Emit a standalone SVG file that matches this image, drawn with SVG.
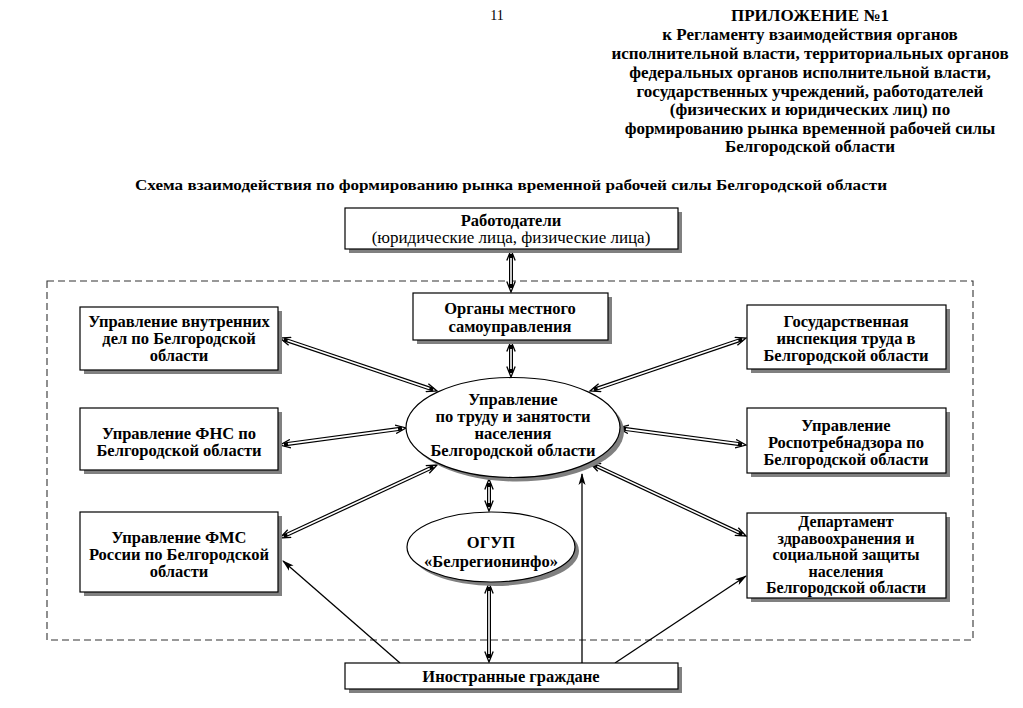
<svg xmlns="http://www.w3.org/2000/svg" width="1023" height="708" viewBox="0 0 1023 708">
<style>
text{font-family:"Liberation Serif","Times New Roman",serif;fill:#000}
.b{font-weight:bold;font-size:16.5px;text-anchor:middle}
.s{font-size:16px}
.h{font-weight:bold;font-size:17px;text-anchor:middle}
.n{font-size:17px;text-anchor:middle}
.box{fill:#fff;stroke:#000;stroke-width:1.2}
.sh{fill:#808080}
.dbo{stroke:#000;stroke-width:4;fill:none;marker-start:url(#ch);marker-end:url(#ch)}
.dbi{stroke:#fff;stroke-width:1.6;fill:none}
.sg{stroke:#000;stroke-width:1.3;fill:none;marker-end:url(#ar)}
</style>
<defs>
<marker id="ch" viewBox="0 0 12 10" refX="7" refY="5" markerWidth="12" markerHeight="10" markerUnits="userSpaceOnUse" orient="auto-start-reverse">
<path d="M0.5,0.8 L11,5 L0.5,9.2" fill="none" stroke="#000" stroke-width="1.3"/>
</marker>
<marker id="ar" viewBox="0 0 12 8" refX="11" refY="4" markerWidth="12" markerHeight="8" markerUnits="userSpaceOnUse" orient="auto">
<path d="M0,0.5 L12,4 L0,7.5 L3,4 Z" fill="#000"/>
</marker>
</defs>
<rect width="1023" height="708" fill="#fff"/>
<text x="497" y="20" style="font-size:14px;text-anchor:middle">11</text>
<g id="header">
<text class="h" x="810" y="21">ПРИЛОЖЕНИЕ №1</text>
<text class="h" x="810" y="40">к  Регламенту взаимодействия органов</text>
<text class="h" x="810" y="59">исполнительной власти, территориальных органов</text>
<text class="h" x="810" y="78">федеральных органов исполнительной власти,</text>
<text class="h" x="810" y="97">государственных учреждений, работодателей</text>
<text class="h" x="810" y="115">(физических и юридических лиц) по</text>
<text class="h" x="810" y="134">формированию рынка временной рабочей силы</text>
<text class="h" x="810" y="152">Белгородской области</text>
</g>
<text x="135" y="190" style="font-weight:bold;font-size:15px" textLength="752" lengthAdjust="spacingAndGlyphs">Схема взаимодействия по формированию рынка временной рабочей силы  Белгородской области</text>
<rect x="47" y="281" width="926" height="359" fill="none" stroke="#333" stroke-width="1.1" stroke-dasharray="7,4"/>
<g id="connectors">
<path class="dbo" d="M511,254 L511,288"/><path class="dbi" d="M511,258 L511,284"/>
<path class="dbo" d="M511,345 L511,373"/><path class="dbi" d="M511,349 L511,369"/>
<path class="dbo" d="M489,483 L489,507"/><path class="dbi" d="M489,487 L489,503"/>
<path class="dbo" d="M489,587 L489,658"/><path class="dbi" d="M489,591 L489,654"/>
<path class="dbo" d="M283.8,339.3 L433.2,389.7"/><path class="dbi" d="M287.6,340.6 L429.4,388.4"/>
<path class="dbo" d="M284,444.5 L402,428.5"/><path class="dbi" d="M287.9,443.9 L398.1,429.1"/>
<path class="dbo" d="M283.6,536.3 L433.4,466.7"/><path class="dbi" d="M287.3,534.6 L429.7,468.4"/>
<path class="dbo" d="M593.8,389.7 L742.2,339.3"/><path class="dbi" d="M597.6,388.4 L738.4,340.6"/>
<path class="dbo" d="M622,428.5 L742,444.5"/><path class="dbi" d="M625.9,429.1 L738.1,443.9"/>
<path class="dbo" d="M593.6,464.7 L742.4,534.3"/><path class="dbi" d="M597.3,466.4 L738.7,532.6"/>
<path class="sg" d="M582,663 L582,474"/>
<path class="sg" d="M615,663 L746,576"/>
<path class="sg" d="M400,663 L283,561"/>
</g>
<g id="rabotodateli">
<rect class="sh" x="349" y="212" width="333" height="41"/>
<rect class="box" x="345" y="208" width="333" height="41"/>
<text class="b" x="511" y="226">Работодатели</text>
<text class="n" x="511" y="243">(юридические лица, физические лица)</text>
</g>
<g id="organy">
<rect class="sh" x="417" y="297" width="195" height="47"/>
<rect class="box" x="413" y="293" width="195" height="47"/>
<text class="b" x="510" y="314">Органы местного</text>
<text class="b" x="510" y="332">самоуправления</text>
</g>
<g id="uvd">
<rect class="sh" x="84" y="311" width="198" height="63"/>
<rect class="box" x="80" y="307" width="198" height="63"/>
<text class="b" x="179" y="327">Управление внутренних</text>
<text class="b" x="179" y="344">дел  по Белгородской</text>
<text class="b" x="179" y="361">области</text>
</g>
<g id="fns">
<rect class="sh" x="84" y="412" width="198" height="62"/>
<rect class="box" x="80" y="408" width="198" height="62"/>
<text class="b" x="179" y="439">Управление ФНС по</text>
<text class="b" x="179" y="456">Белгородской области</text>
</g>
<g id="fms">
<rect class="sh" x="84" y="516" width="198" height="80"/>
<rect class="box" x="80" y="512" width="198" height="80"/>
<text class="b" x="179" y="543">Управление ФМС</text>
<text class="b" x="179" y="560">России по Белгородской</text>
<text class="b" x="179" y="577">области</text>
</g>
<g id="git">
<rect class="sh" x="751" y="309" width="199" height="64"/>
<rect class="box" x="747" y="305" width="199" height="64"/>
<text class="b" x="846" y="327">Государственная</text>
<text class="b" x="846" y="344">инспекция труда в</text>
<text class="b" x="846" y="361">Белгородской области</text>
</g>
<g id="rpn">
<rect class="sh" x="751" y="412" width="199" height="65"/>
<rect class="box" x="747" y="408" width="199" height="65"/>
<text class="b" x="846" y="431">Управление</text>
<text class="b" x="846" y="448">Роспотребнадзора по</text>
<text class="b" x="846" y="465">Белгородской области</text>
</g>
<g id="dep">
<rect class="sh" x="751" y="517" width="199" height="85"/>
<rect class="box" x="747" y="513" width="199" height="85"/>
<text class="b s" x="846" y="527">Департамент</text>
<text class="b s" x="846" y="543.5">здравоохранения и</text>
<text class="b s" x="846" y="560">социальной защиты</text>
<text class="b s" x="846" y="576.5">населения</text>
<text class="b s" x="846" y="593">Белгородской области</text>
</g>
<g id="utzn">
<ellipse class="sh" cx="517" cy="431.5" rx="107" ry="50"/>
<ellipse class="box" cx="513" cy="427.5" rx="107" ry="50"/>
<text class="b" x="513" y="405">Управление</text>
<text class="b" x="513" y="422">по труду и занятости</text>
<text class="b" x="513" y="439">населения</text>
<text class="b" x="513" y="456">Белгородской области</text>
</g>
<g id="ogup">
<ellipse class="sh" cx="495" cy="551" rx="84" ry="35"/>
<ellipse class="box" cx="491" cy="547" rx="84" ry="35"/>
<text class="b" x="491" y="548">ОГУП</text>
<text class="b" x="491" y="567">«Белрегионинфо»</text>
</g>
<g id="inostr">
<rect class="sh" x="349" y="667" width="333" height="26"/>
<rect class="box" x="345" y="663" width="333" height="26"/>
<text class="b" x="511" y="682">Иностранные граждане</text>
</g>
</svg>
